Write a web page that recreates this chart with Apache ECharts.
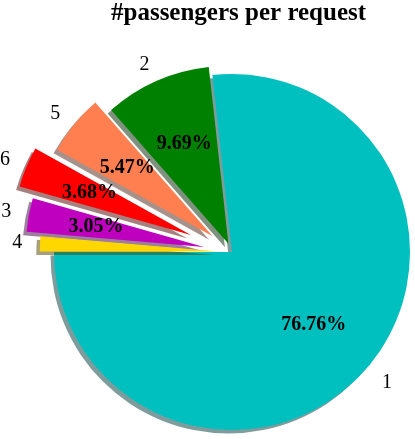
<!DOCTYPE html>
<html>
<head>
<meta charset="utf-8">
<title>#passengers per request</title>
<script src="https://cdn.jsdelivr.net/npm/echarts@6/dist/echarts.min.js"></script>
<style>
  html, body { margin: 0; padding: 0; background: #fff; }
  #main { width: 415px; height: 439px; }
</style>
</head>
<body>
<div id="main"></div>
<script>
// slices, counter-clockwise from the left horizontal
const names = ['1', '2', '5', '6', '3', '4'];
const shares = [76.76, 9.69, 5.47, 3.68, 3.05, 1.35];
const colors = ['#00bfbf', '#008000', '#ff7f50', '#ff0000', '#bf00bf', '#ffd700'];
// how far each slice is pulled out, as a fraction of the radius
const explode = [0, 0.05, 0.14, 0.25, 0.16, 0.08];

const R = 178;
const center = [232, 252];
const serif = 'Liberation Serif, Times New Roman, serif';

// matplotlib style shadow: 30% of the colour at half alpha
function shade(hex) {
  const n = parseInt(hex.slice(1), 16);
  const r = Math.round(((n >> 16) & 255) * 0.3);
  const g = Math.round(((n >> 8) & 255) * 0.3);
  const b = Math.round((n & 255) * 0.3);
  return 'rgba(' + r + ',' + g + ',' + b + ',0.5)';
}

function baseSeries(i, radius) {
  return {
    type: 'pie',
    center: center,
    radius: radius,
    startAngle: 180,
    clockwise: false,
    selectedMode: 'multiple',
    selectedOffset: explode[i] * R,
    avoidLabelOverlap: false,
    silent: true,
    animation: false,
    labelLine: { show: false, length: 0.1 * R, length2: 0 },
    select: { itemStyle: { borderWidth: 0 } }
  };
}

// the visible wedge with its name label outside
function wedgeSeries(i) {
  const s = baseSeries(i, [0, R]);
  s.label = {
    show: false, position: 'outside', fontFamily: serif, fontSize: 20,
    color: '#000', distanceToLabelLine: 0, bleedMargin: 0, overflow: 'none'
  };
  s.data = shares.map(function (v, j) {
    const on = j === i;
    const lab = { show: on };
    // the big slice's name sits a little lower and further out
    if (j === 0) lab.padding = [16, 0, 0, 4];
    return {
      name: names[j], value: v, selected: on,
      itemStyle: on ? {
        color: colors[j], shadowColor: shade(colors[j]),
        shadowBlur: 0, shadowOffsetX: -3.5, shadowOffsetY: 3.5
      } : { color: 'rgba(0,0,0,0)' },
      label: lab
    };
  });
  return s;
}

// transparent ring whose middle sits at 0.6 of the radius, for the percentages
function pctSeries(i) {
  const s = baseSeries(i, [0.2 * R, R]);
  s.label = {
    show: false, position: 'inside', fontFamily: serif, fontSize: 20,
    fontWeight: 'bold', color: '#000',
    formatter: function (p) { return p.value.toFixed(2) + '%'; }
  };
  s.data = shares.map(function (v, j) {
    return {
      name: names[j], value: v, selected: j === i,
      itemStyle: { color: 'rgba(0,0,0,0)' },
      label: { show: j === i }
    };
  });
  return s;
}

const series = [];
names.forEach(function (n, i) { series.push(wedgeSeries(i)); });
names.forEach(function (n, i) { series.push(pctSeries(i)); });

const chart = echarts.init(document.getElementById('main'));
chart.setOption({
  animation: false,
  title: {
    text: '#passengers per request',
    left: 106,
    top: -4,
    textStyle: { fontFamily: serif, fontSize: 25, fontWeight: 'bold', color: '#000' }
  },
  series: series
});
</script>
</body>
</html>
